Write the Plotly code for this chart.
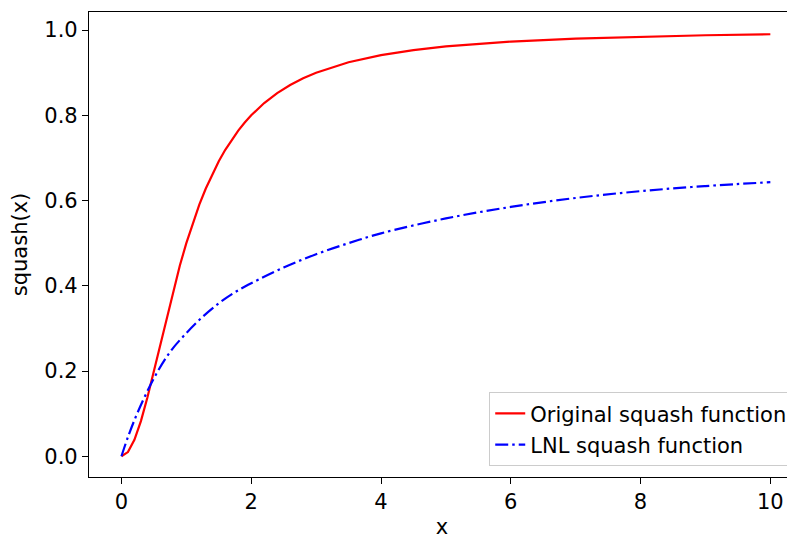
import plotly.graph_objects as go

# Original squash function
x_orig = [0, 0.1, 0.2, 0.3, 0.4, 0.5, 0.6, 0.7, 0.8, 0.9, 1.0, 1.1, 1.2, 1.3, 1.4,
          1.5, 1.6, 1.7, 1.8, 1.9, 2.0, 2.2, 2.4, 2.6, 2.8, 3.0, 3.5, 4.0, 4.5,
          5.0, 6.0, 7.0, 8.0, 9.0, 10.0]
y_orig = [0.0, 0.0099, 0.0385, 0.0826, 0.1379, 0.2, 0.2647, 0.3289, 0.3902, 0.4475,
          0.5, 0.5475, 0.5902, 0.6283, 0.6622, 0.6923, 0.7191, 0.7429, 0.7642,
          0.7831, 0.8, 0.8288, 0.8521, 0.8711, 0.8869, 0.9, 0.9245, 0.9412,
          0.9529, 0.9615, 0.973, 0.98, 0.9846, 0.9878, 0.9901]

# LNL squash function
x_lnl = [0, 0.1, 0.25, 0.5, 0.75, 1.0, 1.25, 1.5, 1.75, 2.0, 2.5, 3.0, 3.5, 4.0,
         5.0, 6.0, 7.0, 8.0, 9.0, 10.0]
y_lnl = [0.0, 0.045, 0.103, 0.183, 0.245, 0.289, 0.327, 0.359, 0.385, 0.406,
         0.443, 0.474, 0.500, 0.523, 0.558, 0.585, 0.606, 0.622, 0.634, 0.643]

x_ticks = [0, 2, 4, 6, 8, 10]
y_ticks = [0.0, 0.2, 0.4, 0.6, 0.8, 1.0]

FONT = "DejaVu Sans"
FS = 21

fig = go.Figure()
fig.add_trace(go.Scatter(x=x_orig, y=y_orig, mode="lines",
                         name="Original squash function",
                         line=dict(color="#ff0000", width=2.2),
                         legendgroup="a"))
fig.add_trace(go.Scatter(x=x_lnl, y=y_lnl, mode="lines",
                         name="LNL squash function",
                         line=dict(color="#0000ff", width=2.2, shape="spline",
                                   dash="13px,4px,2.5px,4px"),
                         legendgroup="b"))

axis_common = dict(showgrid=False, zeroline=False, showline=True, linecolor="black",
                   linewidth=1.2, ticks="outside", ticklen=6, tickwidth=1.2,
                   tickcolor="black",
                   tickfont=dict(family=FONT, size=FS, color="black"))

# The page body has an 8px margin, so the figure is sized and placed to match.
fig.update_layout(
    width=787, height=531,
    margin=dict(l=81, r=0, t=4, b=62, autoexpand=False),
    paper_bgcolor="white", plot_bgcolor="white",
    font=dict(family=FONT, size=FS, color="black"),
    xaxis=dict(range=[-0.5, 10.38], tickvals=x_ticks, mirror=True, automargin=True,
               title=dict(text="x", font=dict(family=FONT, size=FS), standoff=8),
               **axis_common),
    yaxis=dict(range=[-0.0486, 1.0423], tickvals=y_ticks, tickformat=".1f",
               automargin=False,
               title=dict(text="squash(x)", font=dict(family=FONT, size=FS), standoff=10),
               **axis_common),
    legend=dict(x=0.9972, y=0.0237, xanchor="right", yanchor="bottom",
                bgcolor="rgba(255,255,255,0.8)", bordercolor="#cccccc", borderwidth=1.2,
                font=dict(family=FONT, size=FS), tracegroupgap=1,
                traceorder="grouped"),
    showlegend=True,
)

fig.write_html("out.html")
